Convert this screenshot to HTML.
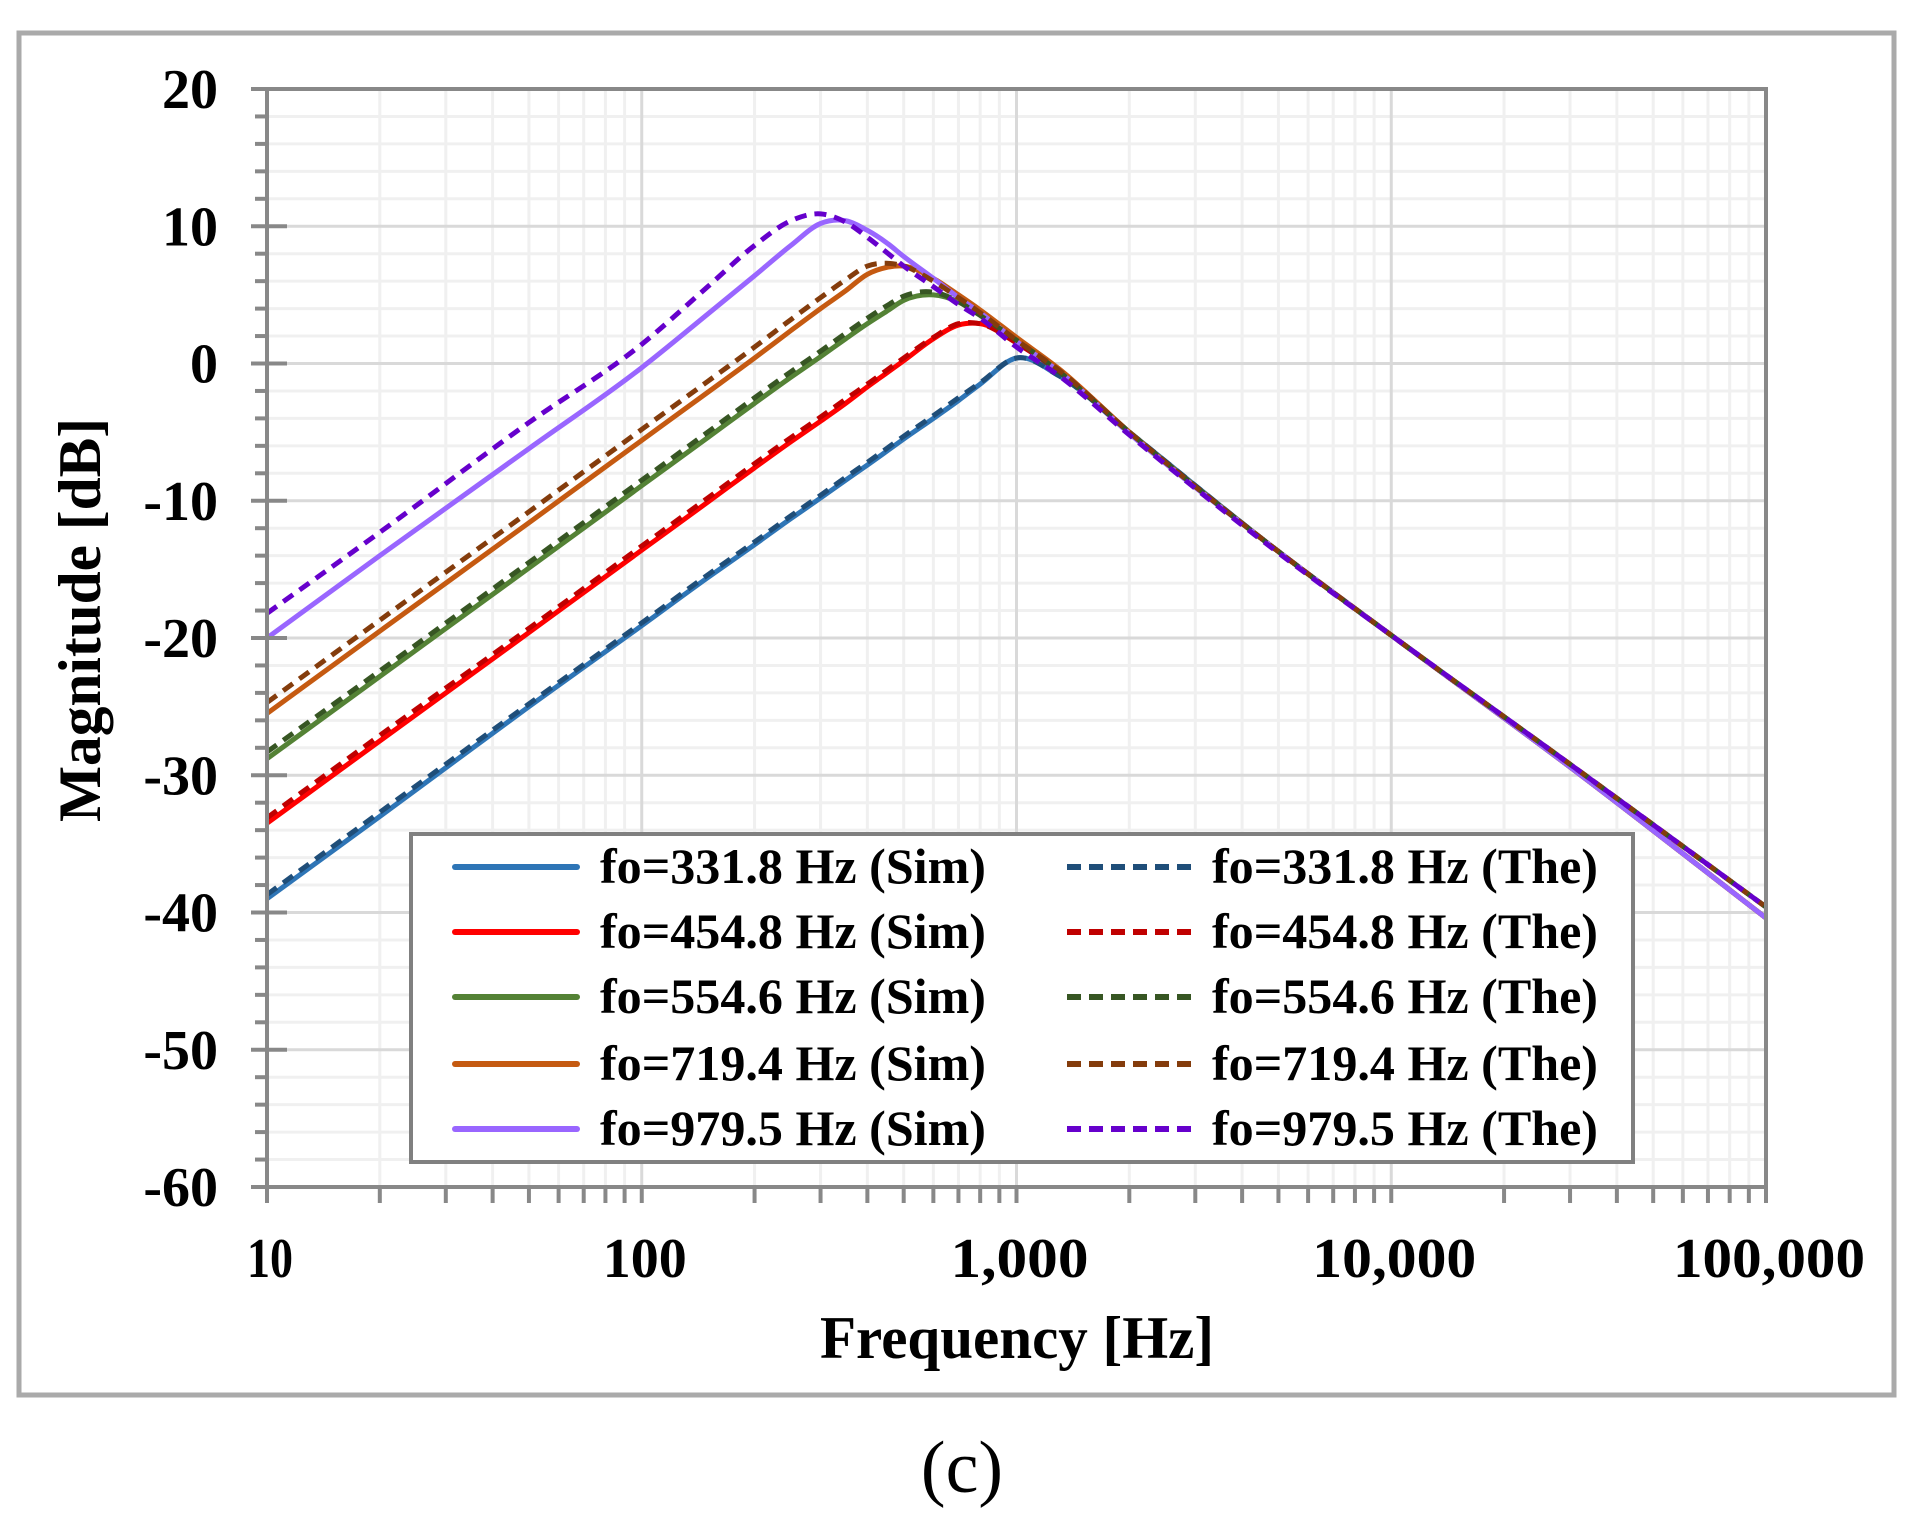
<!DOCTYPE html>
<html><head><meta charset="utf-8"><style>
html,body{margin:0;padding:0;background:#fff;}
svg{display:block;}
text{font-family:"Liberation Serif",serif;font-weight:bold;fill:#000;}
</style></head><body>
<svg id="chart" width="1919" height="1525" viewBox="0 0 1919 1525" xmlns="http://www.w3.org/2000/svg">
<rect x="19" y="33" width="1875" height="1362" fill="#fff" stroke="#aaaaaa" stroke-width="5"/>
<g id="grid"></g>
<g id="series"></g>
<g id="axes"></g>
<text x="0" y="0" font-size="60" text-anchor="middle" textLength="404" lengthAdjust="spacingAndGlyphs" transform="translate(100,620) rotate(-90)">Magnitude [dB]</text>
<text x="1017" y="1358" font-size="60" text-anchor="middle" textLength="394" lengthAdjust="spacingAndGlyphs">Frequency [Hz]</text>
<text x="962" y="1492" font-size="74" text-anchor="middle" style="font-weight:normal">(c)</text>
<g id="legend"></g>
</svg>
<script>
const freqs = [10,20,50,100,150,200,250,300,350,400,450,500,600,700,800,1000,1300,2000,5000,10000,30000,100000];
const sim331 = [-39,-33,-25,-19.1,-15.6,-13.2,-11.3,-9.8,-8.5,-7.4,-6.4,-5.5,-4,-2.7,-1.5,0.4,-0.9,-5,-13.7,-19.8,-29.4,-40.4];
const the331 = [-38.7,-32.7,-24.8,-18.9,-15.4,-13,-11.1,-9.6,-8.3,-7.2,-6.2,-5.3,-3.8,-2.5,-1.4,0.4,-0.9,-5,-13.7,-19.8,-29.2,-39.6];
const sim454 = [-33.5,-27.5,-19.6,-13.6,-10.1,-7.6,-5.7,-4.2,-2.9,-1.7,-0.7,0.2,1.8,2.8,2.9,1.6,-0.6,-5,-13.7,-19.8,-29.4,-40.4];
const the454 = [-33.1,-27.1,-19.3,-13.3,-9.8,-7.3,-5.4,-3.9,-2.6,-1.5,-0.5,0.4,1.9,2.9,2.9,1.5,-0.6,-5,-13.7,-19.8,-29.2,-39.6];
const sim554 = [-28.8,-22.8,-14.9,-8.9,-5.4,-2.9,-1,0.5,1.8,2.9,3.8,4.6,5.0,4.5,3.6,1.8,-0.6,-5,-13.7,-19.8,-29.4,-40.4];
const the554 = [-28.3,-22.4,-14.5,-8.5,-5,-2.5,-0.6,0.9,2.2,3.3,4.2,4.9,5.2,4.5,3.5,1.7,-0.6,-5,-13.7,-19.8,-29.2,-39.6];
const sim719 = [-25.5,-19.5,-11.6,-5.6,-2.1,0.4,2.4,4.0,5.3,6.5,7.0,7.1,6.2,5.0,3.9,1.9,-0.4,-5,-13.7,-19.8,-29.4,-40.4];
const the719 = [-24.7,-18.7,-10.8,-4.8,-1.3,1.2,3.2,4.8,6.1,7.1,7.3,7.1,6.0,4.8,3.7,1.7,-0.5,-5,-13.7,-19.8,-29.2,-39.6];
const sim979 = [-20,-14,-6.2,-0.3,3.6,6.4,8.6,10.2,10.4,9.7,8.8,7.8,6.2,4.8,3.7,1.6,-0.6,-5.1,-13.7,-19.8,-29.4,-40.4];
const the979 = [-18.2,-12.3,-4.3,1.4,5.6,8.6,10.4,10.9,10.3,9.2,8.1,7.1,5.6,4.3,3.3,1.2,-0.9,-5.2,-13.8,-19.8,-29.2,-39.6];
const seriesNames = ["fo=331.8 Hz (Sim)","fo=454.8 Hz (Sim)","fo=554.6 Hz (Sim)","fo=719.4 Hz (Sim)","fo=979.5 Hz (Sim)","fo=331.8 Hz (The)","fo=454.8 Hz (The)","fo=554.6 Hz (The)","fo=719.4 Hz (The)","fo=979.5 Hz (The)"];
const yTicks = [20,10,0,-10,-20,-30,-40,-50,-60];
const xTickLabels = ["10","100","1,000","10,000","100,000"];
const xTickValues = [10,100,1000,10000,100000];

const NS="http://www.w3.org/2000/svg";
const L=267,R=1766,T=89,B=1187;
const X=f=>L+(Math.log10(f)-1)/4*(R-L);
const Y=v=>T+(20-v)/80*(B-T);
function mk(tag,attrs,parent){const e=document.createElementNS(NS,tag);for(const k in attrs)e.setAttribute(k,attrs[k]);parent.appendChild(e);return e;}
const grid=document.getElementById('grid'),axes=document.getElementById('axes'),sg=document.getElementById('series'),lg=document.getElementById('legend');

for(let v=-60;v<=20;v+=2){if(v%10===0)continue;const l=mk('line',{x1:L,x2:R,y1:Y(v),y2:Y(v),stroke:'#f0f0f0','stroke-width':3},grid);

}
for(let d=10;d<100000;d*=10)for(let m=2;m<=9;m++){const x=X(d*m);const l=mk('line',{x1:x,x2:x,y1:T,y2:B,stroke:'#f0f0f0','stroke-width':3},grid);

}
yTicks.forEach(v=>{const l=mk('line',{x1:L,x2:R,y1:Y(v),y2:Y(v),stroke:'#d9d9d9','stroke-width':3},grid);

});
xTickValues.forEach(f=>{const l=mk('line',{x1:X(f),x2:X(f),y1:T,y2:B,stroke:'#d9d9d9','stroke-width':3},grid);

});

const styles=[
 {d:sim331,c:'#2E75B6',dash:null},{d:sim454,c:'#FF0000',dash:null},{d:sim554,c:'#548235',dash:null},{d:sim719,c:'#C55A11',dash:null},{d:sim979,c:'#9966FF',dash:null},
 {d:the331,c:'#1F4E79',dash:'12 8'},{d:the454,c:'#C00000',dash:'12 8'},{d:the554,c:'#375623',dash:'12 8'},{d:the719,c:'#843C0C',dash:'12 8'},{d:the979,c:'#6600CC',dash:'12 8'}];

// cubic Hermite with 3-point (parabolic) tangents
function pathFor(vals){
 const xs=freqs.map(X), ys=vals.map(Y), n=xs.length;
 const dx=[],m=[];
 for(let i=0;i<n-1;i++){dx.push(xs[i+1]-xs[i]);m.push((ys[i+1]-ys[i])/dx[i]);}
 const t=new Array(n);
 t[0]=m[0];t[n-1]=m[n-2];
 for(let i=1;i<n-1;i++){t[i]=(m[i-1]*dx[i]+m[i]*dx[i-1])/(dx[i-1]+dx[i]);}
 let d='M'+xs[0]+','+ys[0];
 for(let i=0;i<n-1;i++){
  const h=dx[i]/3;
  d+=` C${xs[i]+h},${ys[i]+t[i]*h} ${xs[i+1]-h},${ys[i+1]-t[i+1]*h} ${xs[i+1]},${ys[i+1]}`;
 }
 return d;
}
styles.forEach((s,i)=>{
 const p=mk('path',{d:pathFor(s.d),fill:'none',stroke:s.c,'stroke-width':5,'stroke-linejoin':'round'},sg);
 if(s.dash)p.setAttribute('stroke-dasharray',s.dash);
 
 
});

const fr=mk('rect',{x:L,y:T,width:R-L,height:B-T,fill:'none',stroke:'#888','stroke-width':4},axes);


for(let v=-60;v<=20;v+=2){const maj=v%10===0;const t=mk('line',{x1:maj?251:255,x2:maj?287:L,y1:Y(v),y2:Y(v),stroke:'#888','stroke-width':4},axes);

}
for(let d=10;d<=100000;d*=10)for(let m=1;m<=9;m++){if(d*m>100000)break;const x=X(d*m);const t=mk('line',{x1:x,x2:x,y1:B,y2:B+16,stroke:'#888','stroke-width':4},axes);

}
yTicks.forEach(v=>{const t=mk('text',{x:218,y:Y(v)+19,'font-size':56,'text-anchor':'end'},axes);t.textContent=v;

});
const xw=[46,84,138,164,192];
xTickValues.forEach((f,i)=>{const t=mk('text',{x:X(f)+3,y:1277,'font-size':56,'text-anchor':'middle',textLength:xw[i],lengthAdjust:'spacingAndGlyphs'},axes);t.textContent=xTickLabels[i];

});

const box=mk('rect',{x:411,y:834,width:1222,height:328,fill:'#fff',stroke:'#808080','stroke-width':4},lg);


const rows=[867,932,997,1064,1129];
styles.forEach((s,i)=>{
 const col=i<5?0:1,r=i%5;const x0=col?1067:455;const tx=col?1212:600;
 const ln=mk('line',{x1:x0,x2:x0+(col?130:122),y1:rows[r],y2:rows[r],stroke:s.c,'stroke-width':6,'stroke-linecap':col?'butt':'round'},lg);
 if(s.dash)ln.setAttribute('stroke-dasharray','14 8');
 
 
 const t=mk('text',{x:tx,y:rows[r]+16,'font-size':50,textLength:386,lengthAdjust:'spacingAndGlyphs'},lg);
 t.textContent=seriesNames[i];
 
 
});
</script>
</body></html>
